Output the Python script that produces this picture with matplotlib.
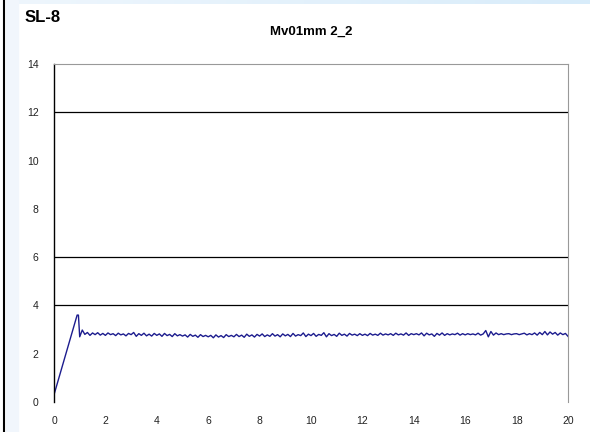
import matplotlib.pyplot as plt
import numpy as np
from matplotlib.patches import Rectangle

plt.rcParams['font.family'] = ['Liberation Sans', 'DejaVu Sans']

# start-up ramp and peak
ramp_t = [0.0, 0.9, 0.95]
ramp_v = [0.3, 3.6, 3.6]

# steady part, sampled every 0.1 from t = 1.0 to 20.0
steady_start = 1.0
steady_step = 0.1
steady_v = [
    2.70, 2.98, 2.80, 2.88, 2.76, 2.86, 2.79, 2.87, 2.77, 2.84,
    2.76, 2.86, 2.79, 2.83, 2.75, 2.85, 2.78, 2.82, 2.74, 2.84,
    2.79, 2.88, 2.72, 2.83, 2.76, 2.85, 2.74, 2.81, 2.73, 2.84,
    2.76, 2.82, 2.72, 2.84, 2.75, 2.80, 2.71, 2.83, 2.74, 2.79,
    2.73, 2.78, 2.69, 2.80, 2.72, 2.77, 2.68, 2.79, 2.71, 2.76,
    2.70, 2.76, 2.66, 2.78, 2.69, 2.75, 2.67, 2.79, 2.71, 2.76,
    2.70, 2.80, 2.71, 2.77, 2.68, 2.81, 2.72, 2.78, 2.69, 2.80,
    2.73, 2.82, 2.71, 2.78, 2.72, 2.83, 2.73, 2.79, 2.70, 2.82,
    2.74, 2.80, 2.71, 2.84, 2.73, 2.79, 2.75, 2.86, 2.71, 2.81,
    2.75, 2.84, 2.72, 2.80, 2.76, 2.87, 2.70, 2.83, 2.75, 2.80,
    2.72, 2.85, 2.76, 2.81, 2.73, 2.84, 2.77, 2.81, 2.75, 2.83,
    2.76, 2.81, 2.75, 2.84, 2.77, 2.81, 2.76, 2.85, 2.77, 2.82,
    2.78, 2.83, 2.76, 2.85, 2.78, 2.82, 2.77, 2.86, 2.76, 2.83,
    2.79, 2.83, 2.78, 2.86, 2.74, 2.85, 2.78, 2.82, 2.72, 2.84,
    2.77, 2.86, 2.76, 2.83, 2.78, 2.82, 2.79, 2.85, 2.77, 2.83,
    2.78, 2.83, 2.79, 2.82, 2.78, 2.85, 2.77, 2.82, 2.96, 2.70,
    2.92, 2.77, 2.86, 2.79, 2.83, 2.79, 2.82, 2.83, 2.79, 2.82,
    2.83, 2.79, 2.82, 2.85, 2.78, 2.83, 2.79, 2.86, 2.77, 2.88,
    2.79, 2.92, 2.78, 2.90, 2.81, 2.88, 2.77, 2.86, 2.79, 2.84,
    2.72,
]

y_labels = [0, 2, 4, 6, 8, 10, 12, 14]
y_marks = [4, 6, 12, 14]
x_labels = [0, 2, 4, 6, 8, 10, 12, 14, 16, 18, 20]
x_marks = [4, 8, 12, 16, 20]
grid_levels = [4, 6, 12]

steady_t = steady_start + steady_step * np.arange(len(steady_v))
t = np.concatenate([ramp_t, steady_t])
v = np.concatenate([ramp_v, steady_v])

fig = plt.figure(figsize=(5.9, 4.32), dpi=100)

# window decoration: light blue strips and dark left edge
fig.patches.append(Rectangle((6 / 590, 0), 12 / 590, 1, transform=fig.transFigure,
                             color='#f1f6fc', zorder=0))
grad = fig.add_axes([18 / 590, 1 - 4 / 432, 1 - 18 / 590, 4 / 432])
grad.imshow(np.linspace(0, 1, 256).reshape(1, -1), aspect='auto',
            cmap=plt.matplotlib.colors.LinearSegmentedColormap.from_list('g', ['#eef6fd', '#d8ecfa']))
grad.axis('off')
fig.add_artist(plt.Line2D([4 / 590, 4 / 590], [0, 1], transform=fig.transFigure,
                          color='black', lw=1.5))

ax = fig.add_axes([54 / 590, 30 / 432, 514 / 590, 338 / 432])
ax.plot(t, v, color='#1c1c8e', lw=1.0)
for g in grid_levels:
    ax.axhline(g, color='black', lw=0.9)

ax.set_xlim(0, 20)
ax.set_ylim(0, 14)
ax.set_yticks(y_labels)
ax.set_yticks(y_marks, minor=True)
ax.set_xticks(x_labels)
ax.set_xticks(x_marks, minor=True)
ax.tick_params(which='major', length=0, labelsize=7.5, labelcolor='#222222')
ax.tick_params(axis='y', which='major', pad=11)
ax.tick_params(axis='x', which='major', pad=10)
ax.tick_params(axis='y', which='minor', length=4, width=0.8, color='black')
ax.tick_params(axis='x', which='minor', length=3, width=0.8, color='#333333')

ax.spines['bottom'].set_visible(False)
ax.spines['left'].set_color('black')
ax.spines['left'].set_linewidth(1.0)
ax.spines['top'].set_color('#999999')
ax.spines['right'].set_color('#999999')

ax.set_title('Mv01mm 2_2', fontsize=9.5, fontweight='bold', pad=21)
fig.text(25 / 590, 1 - 18 / 432, 'SL-8', fontsize=12, fontweight='bold', va='center')

fig.savefig('out.png', dpi=100)
